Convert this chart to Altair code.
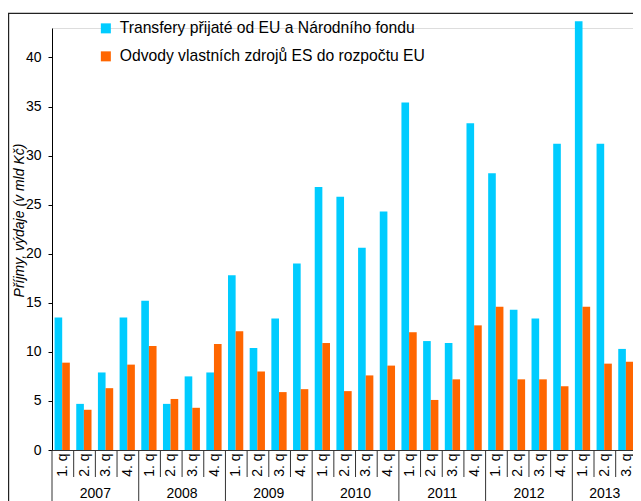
import altair as alt
import pandas as pd

# ---- data ----
years = ["2007", "2008", "2009", "2010", "2011", "2012", "2013"]
quarters_per_year = [4, 4, 4, 4, 4, 4, 3]
quarter_labels = ["1. q", "2. q", "3. q", "4. q"]
series_names = [
    "Transfery přijaté od EU a Národního fondu",
    "Odvody vlastních zdrojů ES do rozpočtu EU",
]
transfers = [13.5, 4.7, 7.9, 13.5, 15.2, 4.7, 7.5, 7.9, 17.8, 10.4, 13.4, 19.0,
             26.8, 25.8, 20.6, 24.3, 35.4, 11.1, 10.9, 33.3, 28.2, 14.3, 13.4, 31.2,
             43.7, 31.2, 10.3]
contributions = [8.9, 4.1, 6.3, 8.7, 10.6, 5.2, 4.3, 10.8, 12.1, 8.0, 5.9, 6.2,
                 10.9, 6.0, 7.6, 8.6, 12.0, 5.1, 7.2, 12.7, 14.6, 7.2, 7.2, 6.5,
                 14.6, 8.8, 9.0]
colors = ["#00CCFF", "#FF6600"]
y_ticks = [0, 5, 10, 15, 20, 25, 30, 35, 40]

FONT = "Liberation Sans"

# ---- tables ----
keys, key_is_q1 = [], []
year_rows = []
idx = 0
for y, n in zip(years, quarters_per_year):
    year_rows.append({"year": y, "center": idx + n / 2})
    for i in range(n):
        keys.append(f"{y} {quarter_labels[i]}")
        key_is_q1.append(i == 0)
        idx += 1
n_q = len(keys)

bar_rows = []
for k, a, b in zip(keys, transfers, contributions):
    bar_rows.append({"key": k, "series": series_names[0], "value": a})
    bar_rows.append({"key": k, "series": series_names[1], "value": b})
bar_df = pd.DataFrame(bar_rows)
sep_df = pd.DataFrame({"key": keys, "q1": key_is_q1})
year_df = pd.DataFrame(year_rows)

STEP = 21.68
X_RANGE = [0, STEP * n_q]
W, H = 581, 422

def xscale():
    return alt.Scale(domain=keys, range=X_RANGE, paddingInner=0, paddingOuter=0)

frame_left = alt.Chart(alt.Data(values=[{}])).mark_rule(color="#222", strokeWidth=1.2).encode(
    x=alt.value(-43.4), y=alt.value(-14.6), y2=alt.value(H + 60))
frame_top = alt.Chart(alt.Data(values=[{}])).mark_rule(color="#222", strokeWidth=1.2).encode(
    x=alt.value(-44), x2=alt.value(W + 60), y=alt.value(-14.6))

bars = alt.Chart(bar_df).mark_bar().encode(
    x=alt.X("key:N", scale=xscale(), sort=keys,
            axis=alt.Axis(title=None, labelExpr="substring(datum.label, 5)",
                          labelAngle=270, labelFontSize=14, labelFont=FONT,
                          labelColor="#000", ticks=False, labelPadding=3,
                          domainColor="#333", domainWidth=1.2, grid=False)),
    xOffset=alt.XOffset("series:N",
                        scale=alt.Scale(domain=series_names, paddingInner=0,
                                        paddingOuter=0.42, align=0.4)),
    y=alt.Y("value:Q", scale=alt.Scale(domain=[0, 43], nice=False),
            axis=alt.Axis(title="Příjmy, výdaje (v mld Kč)", values=y_ticks,
                          grid=False, tickSize=4, labelPadding=7,
                          labelFontSize=14, labelFont=FONT, labelColor="#000",
                          domainColor="#000", tickColor="#000",
                          titleFontSize=14, titleFont=FONT, titleFontStyle="italic",
                          titleFontWeight="normal", titleColor="#000",
                          titleAngle=270, titleX=-29, titleY=192,
                          titleBaseline="alphabetic", titleAlign="center")),
    color=alt.Color("series:N",
                    scale=alt.Scale(domain=series_names, range=colors),
                    legend=alt.Legend(title=None, orient="none", legendX=46, legendY=-7.5,
                                      symbolType="square", symbolSize=100,
                                      symbolStrokeWidth=0, labelFontSize=15.7,
                                      labelFont=FONT, labelColor="#000",
                                      labelLimit=600, labelOffset=6, rowPadding=11,
                                      padding=0)),
)

short_sep = alt.Chart(sep_df).transform_filter("!datum.q1").mark_rule(
    color="#333", strokeWidth=1).encode(
    x=alt.X("key:N", scale=xscale(), sort=keys, bandPosition=0, axis=None),
    y=alt.value(H), y2=alt.value(H + 27))
long_sep = alt.Chart(sep_df).transform_filter("datum.q1").mark_rule(
    color="#333", strokeWidth=1).encode(
    x=alt.X("key:N", scale=xscale(), sort=keys, bandPosition=0, axis=None),
    y=alt.value(H), y2=alt.value(H + 60))

year_text = alt.Chart(year_df).mark_text(fontSize=14, font=FONT, baseline="alphabetic",
                                          color="#000").encode(
    x=alt.X("center:Q", scale=alt.Scale(domain=[0, n_q], range=X_RANGE), axis=None),
    y=alt.value(H + 48),
    text="year:N",
)

chart = alt.layer(frame_left, frame_top, bars, short_sep, long_sep, year_text).resolve_scale(
    x="independent"
).properties(
    width=W, height=H,
    autosize=alt.AutoSizeParams(type="none"),
    padding={"left": 44, "top": 20, "right": 0, "bottom": 51},
    background="white",
).configure_view(stroke=None).configure(font=FONT)

chart.save("out.html", embed_options={"renderer": "svg", "actions": False})
